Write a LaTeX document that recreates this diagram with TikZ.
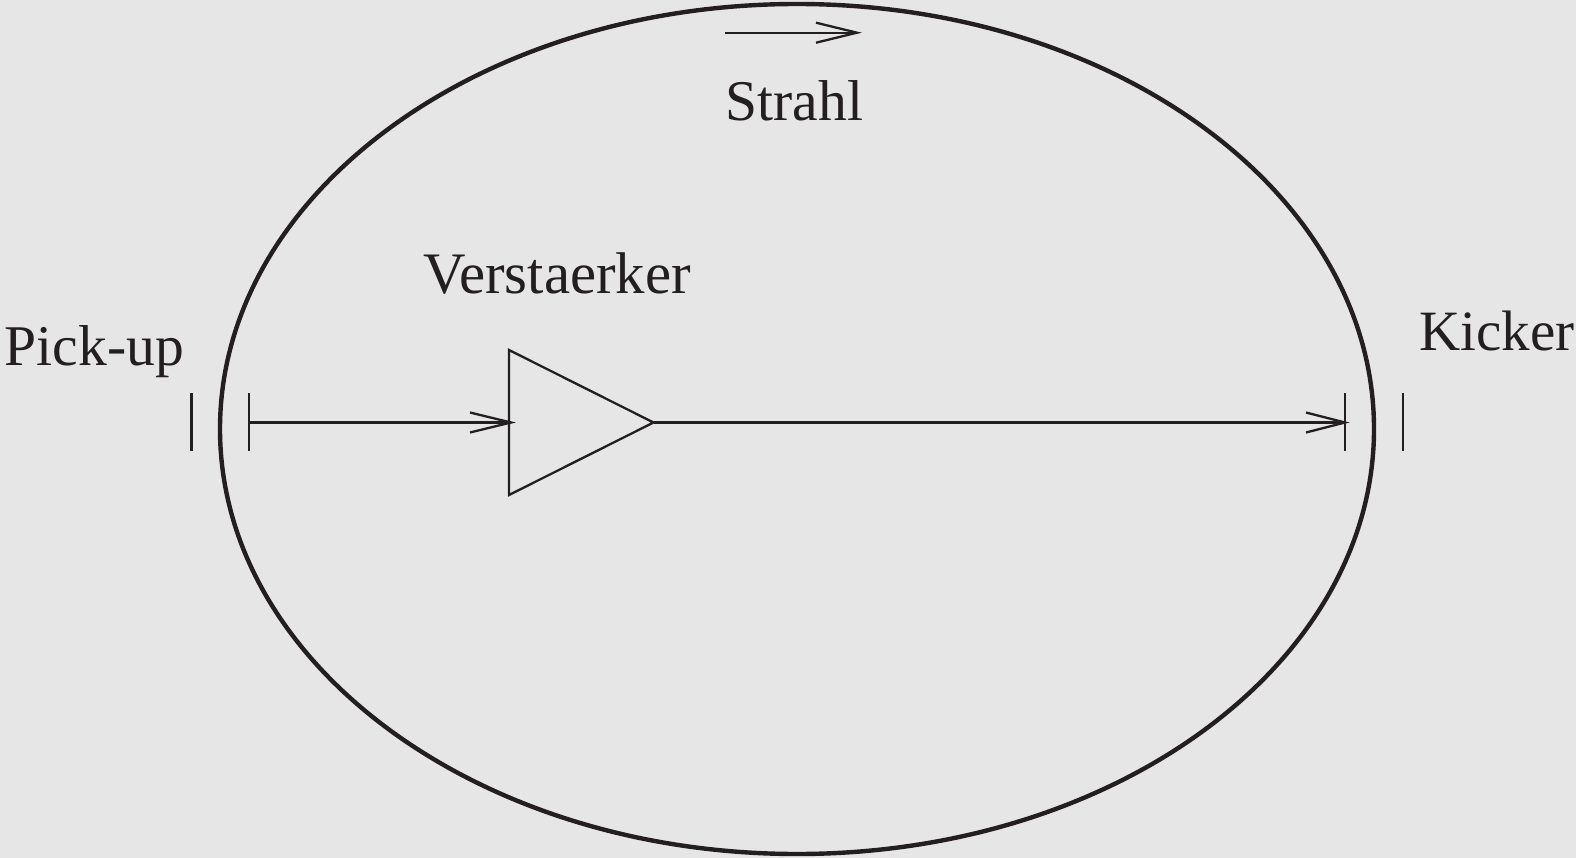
\documentclass[tikz,border=0pt]{standalone}
\usepackage{fontspec}
\setmainfont{Liberation Serif}
\definecolor{bgc}{HTML}{E6E6E6}
\definecolor{ink}{HTML}{231F20}
\begin{document}
\begin{tikzpicture}[x=1pt,y=-1pt,
  ring/.style={draw=ink,line width=4.4pt},
  thin line/.style={draw=ink,line width=2.3pt},
  label/.style={text=ink,inner sep=0pt,anchor=base west},
  plate/.style={draw=ink,line width=2.3pt}]
\path[fill=bgc] (0,0) rectangle (1576,858);
\useasboundingbox (0,0) rectangle (1576,858);
\draw[ring] (797,429) ellipse [x radius=577, y radius=425];
\coordinate (a1) at (725,32.7);
\coordinate (a2) at (857,32.7);
\draw[thin line] (a1) -- (a2);
\draw[thin line] (816,22.7) -- (a2) -- (816,42.7);
\node[label,font=\fontsize{57.6}{58}\selectfont] (strahl) at (725.5,120.5) {Strahl};
\node[label,font=\fontsize{58.8}{59}\selectfont] (verst) at (423,293.5) {Verstaerker};
\node[label,font=\fontsize{57.6}{58}\selectfont] (pick) at (4.5,365.5) {Pick-up};
\node[label,font=\fontsize{57}{58}\selectfont] (kick) at (1419,350.5) {Kicker};
\coordinate (pa) at (191.5,393); \coordinate (pb) at (191.5,451);
\coordinate (pc) at (249,393); \coordinate (pd) at (249,451);
\coordinate (pm) at (249,422.5);
\coordinate (ka) at (1345,393); \coordinate (kb) at (1345,451);
\coordinate (kc) at (1403,393); \coordinate (kd) at (1403,451);
\coordinate (km) at (1345,422.5);
\draw[plate] (pa) -- (pb);
\draw[plate] (pc) -- (pd);
\draw[plate] (ka) -- (kb);
\draw[plate] (kc) -- (kd);
\coordinate (t1) at (509,350); \coordinate (t2) at (509,495); \coordinate (t3) at (653.5,422.5);
\coordinate (tm) at (511,422.5);
\draw[thin line] (t1) -- (t2) -- (t3) -- cycle;
\draw[thin line] (pm) -- (tm);
\draw[thin line] (470,412.5) -- (tm) -- (470,432.5);
\draw[thin line] (t3) -- (km);
\draw[thin line] (1306,412.5) -- (km) -- (1306,432.5);
\end{tikzpicture}
\end{document}
